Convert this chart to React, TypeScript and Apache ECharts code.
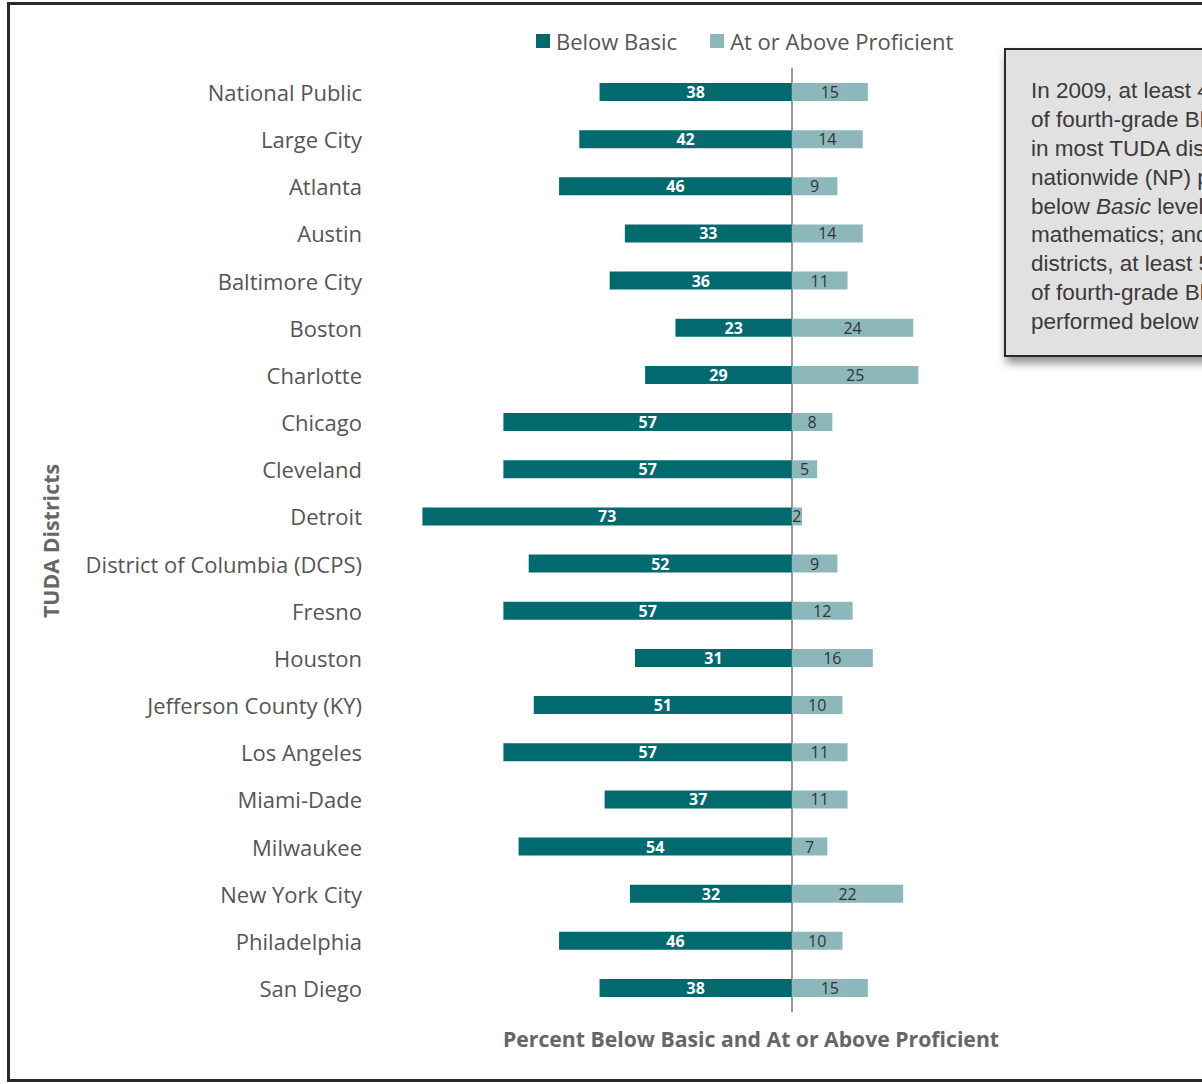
import React, { useEffect, useRef } from "react";
import * as echarts from "echarts";

const categories = [
  "National Public",
  "Large City",
  "Atlanta",
  "Austin",
  "Baltimore City",
  "Boston",
  "Charlotte",
  "Chicago",
  "Cleveland",
  "Detroit",
  "District of Columbia (DCPS)",
  "Fresno",
  "Houston",
  "Jefferson County (KY)",
  "Los Angeles",
  "Miami-Dade",
  "Milwaukee",
  "New York City",
  "Philadelphia",
  "San Diego",
];
const belowBasic = [38, 42, 46, 33, 36, 23, 29, 57, 57, 73, 52, 57, 31, 51, 57, 37, 54, 32, 46, 38];
const atOrAboveProficient = [15, 14, 9, 14, 11, 24, 25, 8, 5, 2, 9, 12, 16, 10, 11, 11, 7, 22, 10, 15];
const seriesNames = ["Below Basic", "At or Above Proficient"];
const xAxisTitle = "Percent Below Basic and At or Above Proficient";
const yAxisTitle = "TUDA Districts";
const noteLines = [
  "In 2009, at least 40 percent",
  "of fourth-grade Black students",
  "in most TUDA districts and",
  "nationwide (NP) performed",
  "{n|below }{i|Basic}{n| level in}",
  "mathematics; and in 8",
  "districts, at least 50 percent",
  "of fourth-grade Black students",
  "performed below Basic.",
];

const DARK = "#016A6E";
const LIGHT = "#8DB8BB";
const LABEL_FONT = "'Open Sans', Lato, sans-serif";
const NOTE_FONT = "'Liberation Sans', Arial, sans-serif";

export default function App() {
  const ref = useRef<HTMLDivElement>(null);
  useEffect(() => {
    if (!ref.current) return;
    const chart = echarts.init(ref.current, undefined, { renderer: "svg" });
    const noteText = noteLines.map((l) => (l.startsWith("{") ? l : `{n|${l}}`)).join("\n");
    chart.setOption({
      animation: false,
      backgroundColor: "#ffffff",
      legend: {
        top: 25,
        left: 531,
        itemWidth: 14,
        itemHeight: 14,
        itemGap: 33,
        icon: "rect",
        textStyle: { fontFamily: LABEL_FONT, fontSize: 22, color: "#555555", padding: [0, 0, 0, 1] },
        data: seriesNames,
      },
      grid: { left: 387, width: 607.3, top: 68.4, height: 943.2, containLabel: false },
      xAxis: {
        type: "value",
        min: -80,
        max: 40,
        interval: 10,
        axisLabel: { show: false },
        axisTick: { show: false },
        axisLine: { show: false },
        splitLine: { show: false },
      },
      yAxis: {
        type: "category",
        inverse: true,
        data: categories,
        axisTick: { show: false },
        axisLine: { show: true, onZero: true, lineStyle: { color: "#9a9a9a", width: 2 } },
        axisLabel: {
          margin: 25,
          fontFamily: LABEL_FONT,
          fontSize: 22,
          color: "#555555",
        },
      },
      series: [
        {
          name: seriesNames[0],
          type: "bar",
          stack: "s",
          barWidth: 18,
          itemStyle: { color: DARK },
          data: belowBasic.map((v) => -v),
          label: {
            show: true,
            position: "inside",
            formatter: (p: any) => String(Math.abs(p.value)),
            color: "#ffffff",
            fontWeight: "bold",
            fontFamily: LABEL_FONT,
            fontSize: 16,
          },
          z: 1,
        },
        {
          name: seriesNames[1],
          type: "bar",
          stack: "s",
          barWidth: 18,
          itemStyle: { color: LIGHT },
          data: atOrAboveProficient,
          label: {
            show: true,
            position: "inside",
            color: "#333333",
            fontFamily: LABEL_FONT,
            fontSize: 16,
          },
          z: 1,
        },
      ],
      graphic: [
        {
          type: "rect",
          shape: { x: 8.5, y: 3.5, width: 1300, height: 1077 },
          style: { fill: "none", stroke: "#2a2a2a", lineWidth: 3 },
          silent: true,
          z: 100,
        },
        {
          type: "text",
          x: 751,
          y: 1038,
          style: {
            text: xAxisTitle,
            font: `bold 21.2px ${LABEL_FONT}`,
            fill: "#666666",
            align: "center",
            verticalAlign: "middle",
          },
        },
        {
          type: "text",
          x: 50,
          y: 541,
          rotation: Math.PI / 2,
          style: {
            text: yAxisTitle,
            font: `bold 21.4px ${LABEL_FONT}`,
            fill: "#666666",
            align: "center",
            verticalAlign: "middle",
          },
        },
        {
          type: "rect",
          shape: { x: 1005, y: 49, width: 400, height: 307 },
          style: {
            fill: "#E1E1E2",
            stroke: "#2b2b2b",
            lineWidth: 2,
            shadowBlur: 10,
            shadowOffsetX: 2,
            shadowOffsetY: 6,
            shadowColor: "rgba(0,0,0,0.45)",
          },
          z: 50,
        },
        {
          type: "text",
          x: 1031,
          y: 76,
          z: 51,
          style: {
            text: noteText,
            rich: {
              n: { font: `22.5px ${NOTE_FONT}`, fill: "#3a3a3a", lineHeight: 28.9 },
              i: { font: `italic 22.5px ${NOTE_FONT}`, fill: "#3a3a3a", lineHeight: 28.9 },
            },
            fill: "#3a3a3a",
          },
        },
      ],
    });
    return () => chart.dispose();
  }, []);
  return (
    <div
      ref={ref}
      style={{ position: "absolute", left: 0, top: 0, width: 1202, height: 1084 }}
    />
  );
}
